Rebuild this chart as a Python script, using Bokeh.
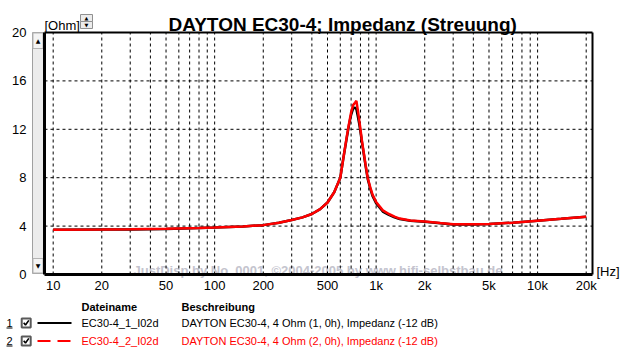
from bokeh.plotting import figure
from bokeh.models import Range1d, FixedTicker, LogAxis, LinearAxis, LinearScale
from bokeh.embed import file_html
from bokeh.resources import INLINE
from bokeh.core.properties import value

FONT = "Liberation Sans"

# ---- data ----
freq_hz = [10, 20, 30, 50, 80, 100, 150, 200, 250, 300,
           350, 400, 450, 500, 550, 600, 630, 660, 680, 700,
           720, 740, 755, 770, 785, 800, 820, 840, 860, 887,
           920, 950, 1000, 1100, 1200, 1300, 1400, 1630, 2000, 2500,
           3000, 4000, 5000, 7000, 10000, 14000, 20000]
imp_1 = [3.69, 3.71, 3.72, 3.77, 3.84, 3.88, 3.97, 4.08, 4.28, 4.50,
         4.72, 5.00, 5.40, 5.95, 6.8, 8.0, 9.8, 11.4, 12.4, 13.2,
         13.7, 13.8, 13.65, 13.1, 12.5, 11.8, 10.8, 9.9, 9.0, 7.9,
         7.1, 6.5, 5.9, 5.2, 4.92, 4.72, 4.58, 4.44, 4.36, 4.24,
         4.13, 4.14, 4.18, 4.28, 4.45, 4.6, 4.78]
imp_2 = [3.70, 3.72, 3.74, 3.78, 3.84, 3.88, 3.97, 4.08, 4.28, 4.50,
         4.72, 5.00, 5.40, 5.95, 6.8, 8.0, 9.8, 11.5, 12.5, 13.4,
         14.0, 14.2, 14.35, 13.6, 12.8, 12.0, 10.9, 10.0, 9.1, 8.0,
         7.2, 6.6, 6.0, 5.3, 5.0, 4.78, 4.62, 4.46, 4.38, 4.25,
         4.15, 4.15, 4.18, 4.28, 4.45, 4.6, 4.78]

x_major = [10, 20, 50, 100, 200, 500, 1000, 2000, 5000, 10000, 20000]
x_labels = ["10", "20", "50", "100", "200", "500", "1k", "2k", "5k", "10k", "20k"]
x_minor = [30, 40, 60, 70, 80, 90, 300, 400, 600, 700, 800, 900,
           3000, 4000, 6000, 7000, 8000, 9000]
y_ticks = [0, 4, 8, 12, 16, 20]

title_text = "DAYTON EC30-4; Impedanz (Streuung)"
y_unit = "[Ohm]"
x_unit = "[Hz]"
watermark = "JustDisp by No. 0001, \u00a92004-2005 by www.hifi-selbstbau.de"
header_names = ["Dateiname", "Beschreibung"]
row_numbers = ["1", "2"]
file_names = ["EC30-4_1_I02d", "EC30-4_2_I02d"]
descriptions = ["DAYTON EC30-4, 4 Ohm (1, 0h), Impedanz (-12 dB)",
                "DAYTON EC30-4, 4 Ohm (2, 0h), Impedanz (-12 dB)"]
series_colors = ["black", "red"]
series_dash = ["solid", "13 7"]

# ---- layout: one figure whose frame is the whole canvas ----
W, H = 624, 353
# plot area: 8.834 Hz .. 21875 Hz  (x 44..592 px), 0..20 Ohm (y 274..32 px)
X_LO, X_HI = 8.834, 21875.0
Y_LO, Y_HI = 0.0, 20.0

p = figure(width=W, height=H, x_axis_type="log", x_axis_location=None, y_axis_location=None,
           x_range=Range1d(4.718, 34531), y_range=Range1d(-6.529, 22.645),
           output_backend="svg", toolbar_location=None, min_border=0)
p.background_fill_color = "white"
p.border_fill_color = "white"
p.outline_line_color = None
p.grid.visible = False
p.extra_x_ranges = {"px": Range1d(0, W)}
p.extra_y_ranges = {"px": Range1d(H, 0)}
p.extra_x_scales = {"px": LinearScale()}
p.extra_y_scales = {"px": LinearScale()}
PX = dict(x_range_name="px", y_range_name="px")

# watermark (behind the grid)
p.text(x=[133], y=[270], text=[watermark], text_font=value(FONT), text_font_size="13px",
       text_font_style="bold", text_color="#c4c4ce", text_baseline="alphabetic", **PX)

# dashed grid, limited to the plot area
grid_x = sorted(x_major + x_minor)
p.segment(x0=grid_x, y0=[Y_LO] * len(grid_x), x1=grid_x, y1=[Y_HI] * len(grid_x),
          line_color="black", line_width=1, line_dash="3 3")
grid_y = y_ticks[1:-1]
p.segment(x0=[X_LO] * len(grid_y), y0=grid_y, x1=[X_HI] * len(grid_y), y1=grid_y,
          line_color="black", line_width=1, line_dash="3 3")

# curves
p.line(freq_hz, imp_1, line_color=series_colors[0], line_width=2.5)
p.line(freq_hz, imp_2, line_color=series_colors[1], line_width=2.5)

# axes drawn at fixed positions inside the frame
xax = LogAxis(fixed_location=Y_LO, bounds=(X_LO, X_HI),
              ticker=FixedTicker(ticks=x_major, minor_ticks=x_minor))
xax.major_label_overrides = {t: l for t, l in zip(x_major, x_labels)}
yax = LinearAxis(fixed_location=X_LO, bounds=(Y_LO, Y_HI), ticker=FixedTicker(ticks=y_ticks))
for ax in (xax, yax):
    ax.axis_line_width = 3
    ax.axis_line_color = "black"
    ax.major_tick_out = 0
    ax.major_tick_in = 0
    ax.minor_tick_out = 0
    ax.minor_tick_in = 0
    ax.major_label_text_font = FONT
    ax.major_label_text_font_size = "13px"
    ax.major_label_text_color = "black"
xax.major_label_standoff = 3
yax.major_label_standoff = 18
p.add_layout(xax, "below")
p.add_layout(yax, "left")

# top and right border of the plot area
tax = LogAxis(fixed_location=Y_HI, bounds=(X_LO, X_HI), ticker=FixedTicker(ticks=[]))
rax = LinearAxis(fixed_location=X_HI, bounds=(Y_LO, Y_HI), ticker=FixedTicker(ticks=[]))
for ax in (tax, rax):
    ax.axis_line_width = 2
    ax.axis_line_color = "black"
    ax.major_tick_out = 0
    ax.major_tick_in = 0
    ax.minor_tick_out = 0
    ax.minor_tick_in = 0
    ax.major_label_text_color = None
p.add_layout(tax, "above")
p.add_layout(rax, "right")

# title and unit labels
p.text(x=[168], y=[23.5], text=[title_text], text_font=value(FONT), text_font_size="19px",
       text_font_style="bold", text_baseline="alphabetic", text_color="black", **PX)
p.text(x=[44, 596], y=[25, 271], text=[y_unit, x_unit], text_font=value(FONT),
       text_font_size="13px", text_baseline="alphabetic", text_color="black", **PX)

# scrollbar at the left of the plot area
p.quad(left=[32], right=[43], top=[32], bottom=[273], fill_color="#ececec",
       line_color="#a0a0a0", line_width=1, **PX)
p.quad(left=[32.5, 32.5], right=[42.5, 42.5], top=[32.5, 258], bottom=[48, 272.5],
       fill_color="#f4f4f4", line_color="#b4b4b4", line_width=1, **PX)
p.text(x=[37.5, 37.5], y=[40, 265], text=["\u25b2", "\u25bc"], text_font=value("DejaVu Sans"),
       text_font_size="6px", text_align="center", text_baseline="middle", text_color="black", **PX)
# spin button next to [Ohm]
p.quad(left=[80, 80], right=[92, 92], top=[14, 21], bottom=[21, 28], fill_color="#ececec",
       line_color="#909090", line_width=1, **PX)
p.text(x=[86, 86], y=[17.5, 24.5], text=["\u25b2", "\u25bc"], text_font=value("DejaVu Sans"),
       text_font_size="5px", text_align="center", text_baseline="middle", text_color="black", **PX)

# ---- legend table below ----
LFS = "11px"
hy = 306
rows_y = [322.5, 340.5]
p.text(x=[81, 181], y=[hy, hy], text=header_names, text_font=value(FONT),
       text_font_size=LFS, text_font_style="bold", text_baseline="middle",
       text_color="black", **PX)
for i in range(2):
    ry = rows_y[i]
    c = series_colors[i]
    p.text(x=[6], y=[ry], text=[row_numbers[i]], text_font=value(FONT), text_font_size=LFS,
           text_baseline="middle", text_color="black", **PX)
    p.segment(x0=[6], y0=[ry + 5], x1=[12], y1=[ry + 5], line_color="black", line_width=1, **PX)
    p.rect(x=[25.7], y=[ry], width=9, height=9, fill_color="white",
           line_color="#5a5a5a", line_width=2, **PX)
    p.line(x=[23.2, 25, 28.3], y=[ry - 0.3, ry + 2, ry - 2.6], line_color="black",
           line_width=1.6, **PX)
    p.segment(x0=[37], y0=[ry], x1=[71], y1=[ry], line_color=c, line_width=2,
              line_dash=series_dash[i], **PX)
    p.text(x=[81, 181], y=[ry, ry], text=[file_names[i], descriptions[i]], text_font=value(FONT),
           text_font_size=LFS, text_baseline="middle", text_color=c, **PX)

open("out.html", "w").write(file_html(p, INLINE))
